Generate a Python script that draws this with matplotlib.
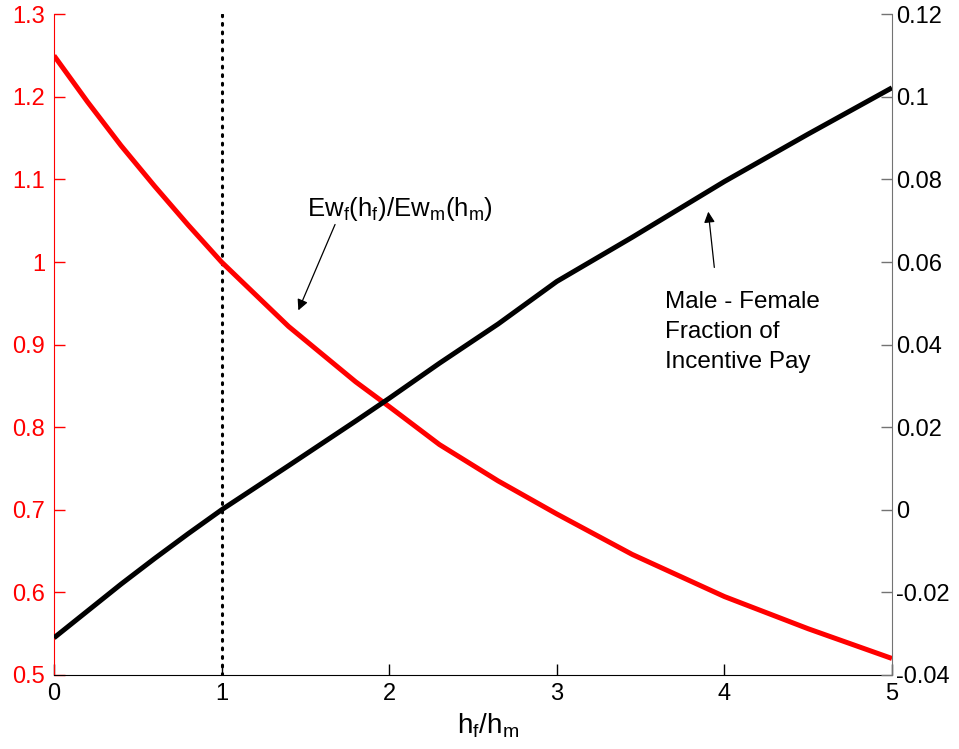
import numpy as np
import matplotlib.pyplot as plt

plt.rcParams['font.family'] = ['Liberation Sans', 'DejaVu Sans']
plt.rcParams['mathtext.fontset'] = 'custom'
plt.rcParams['mathtext.rm'] = 'Liberation Sans'
plt.rcParams['mathtext.it'] = 'Liberation Sans'

# h_f / h_m grid
hf_hm = [0.0, 0.2, 0.4, 0.6, 0.8, 1.0, 1.4, 1.8, 2.0, 2.3, 2.65, 3.0, 3.45, 4.0, 4.5, 5.0]
# Ew_f(h_f)/Ew_m(h_m), left axis (red)
wage_ratio = [1.25, 1.194, 1.141, 1.092, 1.045, 1.0, 0.922, 0.855, 0.825, 0.779,
              0.735, 0.695, 0.646, 0.595, 0.556, 0.520]
# male - female fraction of incentive pay, right axis (black)
incentive_gap = [-0.031, -0.0245, -0.018, -0.0118, -0.0058, 0.0, 0.0107, 0.0215, 0.027,
                 0.0355, 0.045, 0.0553, 0.066, 0.0795, 0.091, 0.1022]

left_ticks = [0.5, 0.6, 0.7, 0.8, 0.9, 1.0, 1.1, 1.2, 1.3]
left_labels = ['0.5', '0.6', '0.7', '0.8', '0.9', '1', '1.1', '1.2', '1.3']
right_ticks = [-0.04, -0.02, 0.0, 0.02, 0.04, 0.06, 0.08, 0.1, 0.12]
right_labels = ['-0.04', '-0.02', '0', '0.02', '0.04', '0.06', '0.08', '0.1', '0.12']
x_ticks = [0, 1, 2, 3, 4, 5]

FS = 17

fig = plt.figure(figsize=(9.59, 7.49), dpi=100)
ax = fig.add_axes([0.0563, 0.0988, 0.8738, 0.8821])
ax2 = ax.twinx()

ax.plot(hf_hm, wage_ratio, color='red', lw=3.6, solid_capstyle='butt', zorder=3)
ax.axvline(1, color='black', ls=(0, (0.6, 2.2)), lw=2.2, dash_capstyle='round')
ax2.plot(hf_hm, incentive_gap, color='black', lw=3.6, solid_capstyle='butt', zorder=3)

ax.set_xlim(0, 5)
ax.set_ylim(0.5, 1.3)
ax2.set_ylim(-0.04, 0.12)

ax.set_xticks(x_ticks)
ax.set_xticklabels([str(t) for t in x_ticks])
ax.set_yticks(left_ticks)
ax.set_yticklabels(left_labels)
ax2.set_yticks(right_ticks)
ax2.set_yticklabels(right_labels)

ax.tick_params(axis='x', direction='in', length=8, width=1, labelsize=FS, pad=6, colors='black')
ax.tick_params(axis='y', direction='in', length=8, width=1, labelsize=FS, pad=6.5, colors='red')
ax2.tick_params(axis='y', direction='in', length=8, width=1, labelsize=FS, pad=3,
                colors='0.45', labelcolor='black')

for a in (ax, ax2):
    a.spines['top'].set_visible(False)
ax.spines['left'].set_color('red')
ax.spines['right'].set_visible(False)
ax2.spines['left'].set_visible(False)
ax2.spines['bottom'].set_visible(False)
ax2.spines['right'].set_color('0.45')
ax.spines['bottom'].set_color('black')

ax.set_xlabel(r'$\mathregular{h_f/h_m}$', fontsize=20, va='top')
ax.xaxis.set_label_coords(0.518, -0.056)

# red curve label
ax.text(1.512, 1.0554, r'$\mathregular{Ew_f(h_f)/Ew_m(h_m)}$', fontsize=18.5,
        ha='left', va='baseline')
ax.annotate('', xy=(1.458, 0.9415), xytext=(1.677, 1.0455),
            arrowprops=dict(arrowstyle='-|>', color='black', lw=0.9, mutation_scale=16,
                            shrinkA=0, shrinkB=0))

# black curve label
ax2.text(3.645, 0.0531, 'Male - Female\nFraction of\nIncentive Pay', fontsize=17.5,
         ha='left', va='top', linespacing=1.48)
ax2.annotate('', xy=(3.904, 0.0722), xytext=(3.94, 0.0587),
             arrowprops=dict(arrowstyle='-|>', color='black', lw=0.9, mutation_scale=16,
                             shrinkA=0, shrinkB=0))

fig.savefig('out.png', dpi=100)
